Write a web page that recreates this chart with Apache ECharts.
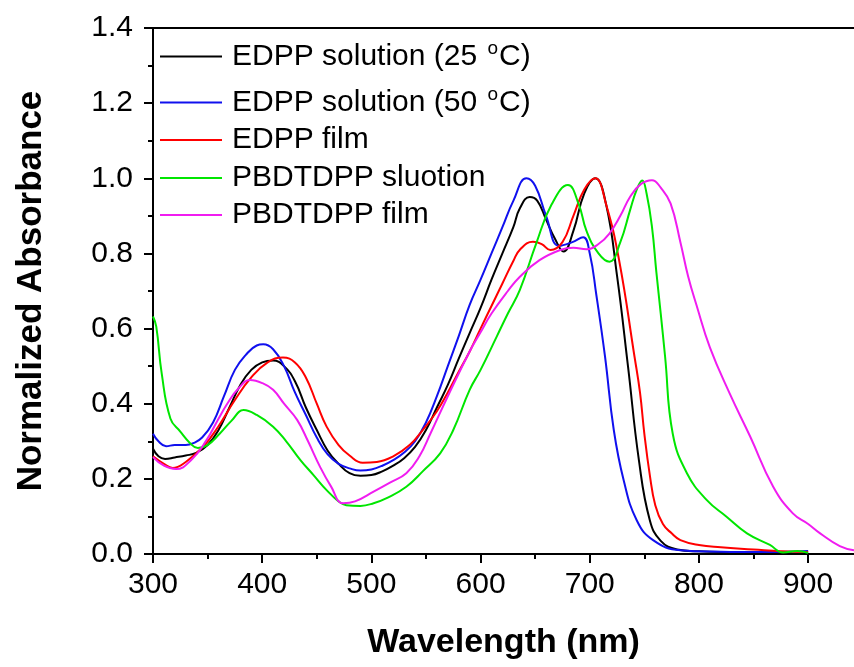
<!DOCTYPE html>
<html>
<head>
<meta charset="utf-8">
<script src="https://cdn.jsdelivr.net/npm/echarts@6/dist/echarts.min.js"></script>
<style>
  html, body { margin: 0; padding: 0; background: #fff; }
  #chart { width: 854px; height: 667px; }
</style>
</head>
<body>
<div id="chart"></div>
<script>
// --- data (wavelength in nm, normalized absorbance) ---
const seriesNames = ['EDPP solution (25 oC)', 'EDPP solution (50 oC)', 'EDPP film', 'PBDTDPP sluotion', 'PBDTDPP film'];
const legendLabels = ['EDPP solution (25 {s|o}C)', 'EDPP solution (50 {s|o}C)', 'EDPP film', 'PBDTDPP sluotion', 'PBDTDPP film'];
const lineColors = ['#000000', '#1010ee', '#ff0000', '#00e600', '#f01cf0'];

const wlSol25 = [300, 305, 311, 320, 330, 340, 350, 360, 370, 380, 390, 400, 410, 420, 430, 440, 450, 460, 470, 480, 490, 500, 510, 520, 530, 540, 550, 560, 570, 580, 590, 600, 610, 620, 630, 636, 645, 652, 660, 668, 676, 685, 695, 705, 715, 725, 735, 745, 755, 765, 780, 800, 830, 860, 885];
const absSol25 = [0.28, 0.26, 0.253, 0.257, 0.262, 0.27, 0.29, 0.33, 0.39, 0.45, 0.49, 0.51, 0.515, 0.50, 0.46, 0.39, 0.33, 0.275, 0.24, 0.215, 0.208, 0.21, 0.22, 0.235, 0.255, 0.285, 0.33, 0.39, 0.45, 0.52, 0.588, 0.655, 0.73, 0.80, 0.87, 0.92, 0.95, 0.94, 0.89, 0.84, 0.805, 0.86, 0.96, 1.0, 0.93, 0.74, 0.5, 0.25, 0.09, 0.035, 0.012, 0.007, 0.005, 0.004, 0.003];

const wlSol50 = [300, 305, 312, 320, 330, 337, 345, 355, 365, 375, 385, 395, 401, 410, 420, 430, 440, 450, 460, 470, 480, 490, 500, 510, 520, 530, 540, 550, 560, 570, 580, 590, 600, 610, 620, 630, 642, 650, 660, 672, 684, 694, 700, 706, 714, 722, 731, 743, 758, 783, 820, 860, 900];
const absSol50 = [0.32, 0.30, 0.287, 0.29, 0.29, 0.295, 0.31, 0.35, 0.42, 0.49, 0.53, 0.555, 0.558, 0.545, 0.50, 0.43, 0.37, 0.31, 0.265, 0.24, 0.228, 0.222, 0.225, 0.235, 0.25, 0.27, 0.30, 0.35, 0.42, 0.50, 0.58, 0.663, 0.73, 0.80, 0.87, 0.94, 1.0, 0.98, 0.9, 0.82, 0.83, 0.843, 0.8, 0.69, 0.525, 0.33, 0.197, 0.09, 0.037, 0.01, 0.006, 0.005, 0.008];

const wlFilm = [300, 310, 318, 330, 346, 360, 375, 390, 405, 419, 430, 440, 450, 459, 470, 480, 492, 505, 520, 535, 547, 560, 570, 580, 590, 600, 610, 620, 630, 636, 648, 656, 664, 675, 685, 695, 705, 715, 727, 741, 746, 750, 755, 760, 767, 775, 783, 800, 820, 850, 875, 900];
const absFilm = [0.26, 0.24, 0.229, 0.245, 0.286, 0.34, 0.41, 0.47, 0.51, 0.523, 0.51, 0.47, 0.40, 0.339, 0.29, 0.262, 0.243, 0.245, 0.26, 0.29, 0.33, 0.38, 0.43, 0.485, 0.539, 0.60, 0.66, 0.72, 0.78, 0.81, 0.831, 0.825, 0.809, 0.83, 0.9, 0.97, 1.0, 0.93, 0.78, 0.525, 0.43, 0.32, 0.21, 0.13, 0.08, 0.055, 0.037, 0.024, 0.018, 0.012, 0.007, 0.005];

const wlPolySol = [300, 303, 308, 316, 325, 334, 341, 350, 361, 372, 383, 395, 410, 422, 435, 447, 459, 470, 477, 490, 502, 515, 532, 547, 563, 575, 590, 600, 615, 625, 636, 651, 665, 680, 690, 697, 708, 718, 728, 737, 743, 748, 752, 757, 761, 765, 769, 776, 789, 807, 825, 844, 865, 877, 890, 900];
const absPolySol = [0.632, 0.605, 0.48, 0.36, 0.326, 0.295, 0.282, 0.29, 0.32, 0.355, 0.383, 0.37, 0.339, 0.30, 0.25, 0.21, 0.17, 0.14, 0.13, 0.128, 0.135, 0.15, 0.179, 0.22, 0.268, 0.33, 0.437, 0.49, 0.58, 0.64, 0.703, 0.827, 0.93, 0.982, 0.93, 0.86, 0.80, 0.778, 0.83, 0.916, 0.97, 0.994, 0.96, 0.87, 0.75, 0.64, 0.525, 0.32, 0.215, 0.144, 0.1, 0.055, 0.024, 0.004, 0.008, 0.003];

const wlPolyFilm = [300, 310, 321, 335, 349, 360, 368, 378, 389, 400, 410, 420, 432, 442, 453, 463, 474, 485, 502, 517, 532, 544, 554, 570, 590, 600, 610, 625, 636, 654, 673, 685, 697, 708, 718, 728, 737, 747, 757, 765, 774, 783, 790, 798, 810, 828, 847, 868, 886, 900, 911, 929, 942];
const absPolyFilm = [0.258, 0.235, 0.226, 0.25, 0.303, 0.36, 0.40, 0.44, 0.463, 0.455, 0.437, 0.40, 0.357, 0.30, 0.232, 0.18, 0.135, 0.14, 0.166, 0.19, 0.215, 0.26, 0.32, 0.42, 0.539, 0.59, 0.64, 0.70, 0.738, 0.782, 0.809, 0.815, 0.811, 0.825, 0.853, 0.9, 0.951, 0.985, 0.995, 0.975, 0.933, 0.83, 0.74, 0.66, 0.55, 0.428, 0.312, 0.179, 0.108, 0.08, 0.055, 0.021, 0.01];

const xMajorTicks = [300, 400, 500, 600, 700, 800, 900];
const xMinorTicks = [350, 450, 550, 650, 750, 850];

const curves = [
  [wlSol25, absSol25],
  [wlSol50, absSol50],
  [wlFilm, absFilm],
  [wlPolySol, absPolySol],
  [wlPolyFilm, absPolyFilm]
];

const font = 'Arial, "Liberation Sans", sans-serif';
const legendTops = [39, 85, 125, 163, 200];

let myChart = echarts.init(document.getElementById('chart'), null, { renderer: 'canvas' });

const option = {
  animation: false,
  backgroundColor: '#fff',
  grid: { left: 153, right: 0, top: 28, bottom: 113, containLabel: false, outerBoundsMode: 'none' },
  legend: seriesNames.map((name, i) => ({
    data: [name],
    left: 160,
    top: legendTops[i],
    padding: 0,
    icon: 'rect',
    itemWidth: 62,
    itemHeight: 2,
    selectedMode: false,
    formatter: () => legendLabels[i],
    textStyle: {
      fontFamily: font, fontSize: 30, color: '#000', padding: [0, 0, 0, 5],
      rich: { s: { fontFamily: font, fontSize: 19, padding: [0, 1, 16, 2], color: '#000' } }
    }
  })),
  xAxis: [
    {
      type: 'value', position: 'bottom', min: 300, max: 942,
      name: 'Wavelength (nm)', nameLocation: 'middle', nameGap: 72,
      nameTextStyle: { fontFamily: font, fontSize: 34, fontWeight: 'bold', color: '#000' },
      axisLine: { lineStyle: { color: '#000', width: 2 } },
      axisTick: { length: 9, lineStyle: { color: '#000', width: 2 }, customValues: xMajorTicks },
      axisLabel: { customValues: xMajorTicks, fontFamily: font, fontSize: 30, color: '#000', margin: 16 },
      splitLine: { show: false }
    },
    {
      type: 'value', position: 'bottom', min: 300, max: 942,
      axisLine: { show: false },
      axisTick: { length: 5, lineStyle: { color: '#000', width: 2 }, customValues: xMinorTicks },
      axisLabel: { show: false },
      splitLine: { show: false }
    },
    {
      type: 'value', position: 'top', min: 300, max: 942,
      axisLine: { lineStyle: { color: '#000', width: 2 } },
      axisTick: { show: false },
      axisLabel: { show: false },
      splitLine: { show: false }
    }
  ],
  yAxis: {
    type: 'value', min: 0, max: 1.4, interval: 0.2,
    name: 'Normalized Absorbance', nameLocation: 'middle', nameGap: 104,
    nameTextStyle: { fontFamily: font, fontSize: 35, fontWeight: 'bold', color: '#000' },
    axisLine: { show: true, lineStyle: { color: '#000', width: 2 } },
    axisTick: { show: true, length: 9, lineStyle: { color: '#000', width: 2 } },
    minorTick: { show: true, splitNumber: 2, length: 5, lineStyle: { color: '#000', width: 2 } },
    axisLabel: { fontFamily: font, fontSize: 30, color: '#000', margin: 20, formatter: v => v.toFixed(1) },
    splitLine: { show: false }
  },
  series: curves.map((c, i) => ({
    name: seriesNames[i],
    type: 'line',
    xAxisIndex: 0,
    symbol: 'none',
    smooth: 0.45,
    data: c[0].map((x, j) => [x, c[1][j]]),
    lineStyle: { color: lineColors[i], width: 2 },
    itemStyle: { color: lineColors[i] }
  }))
};

myChart.setOption(option);
</script>
</body>
</html>
